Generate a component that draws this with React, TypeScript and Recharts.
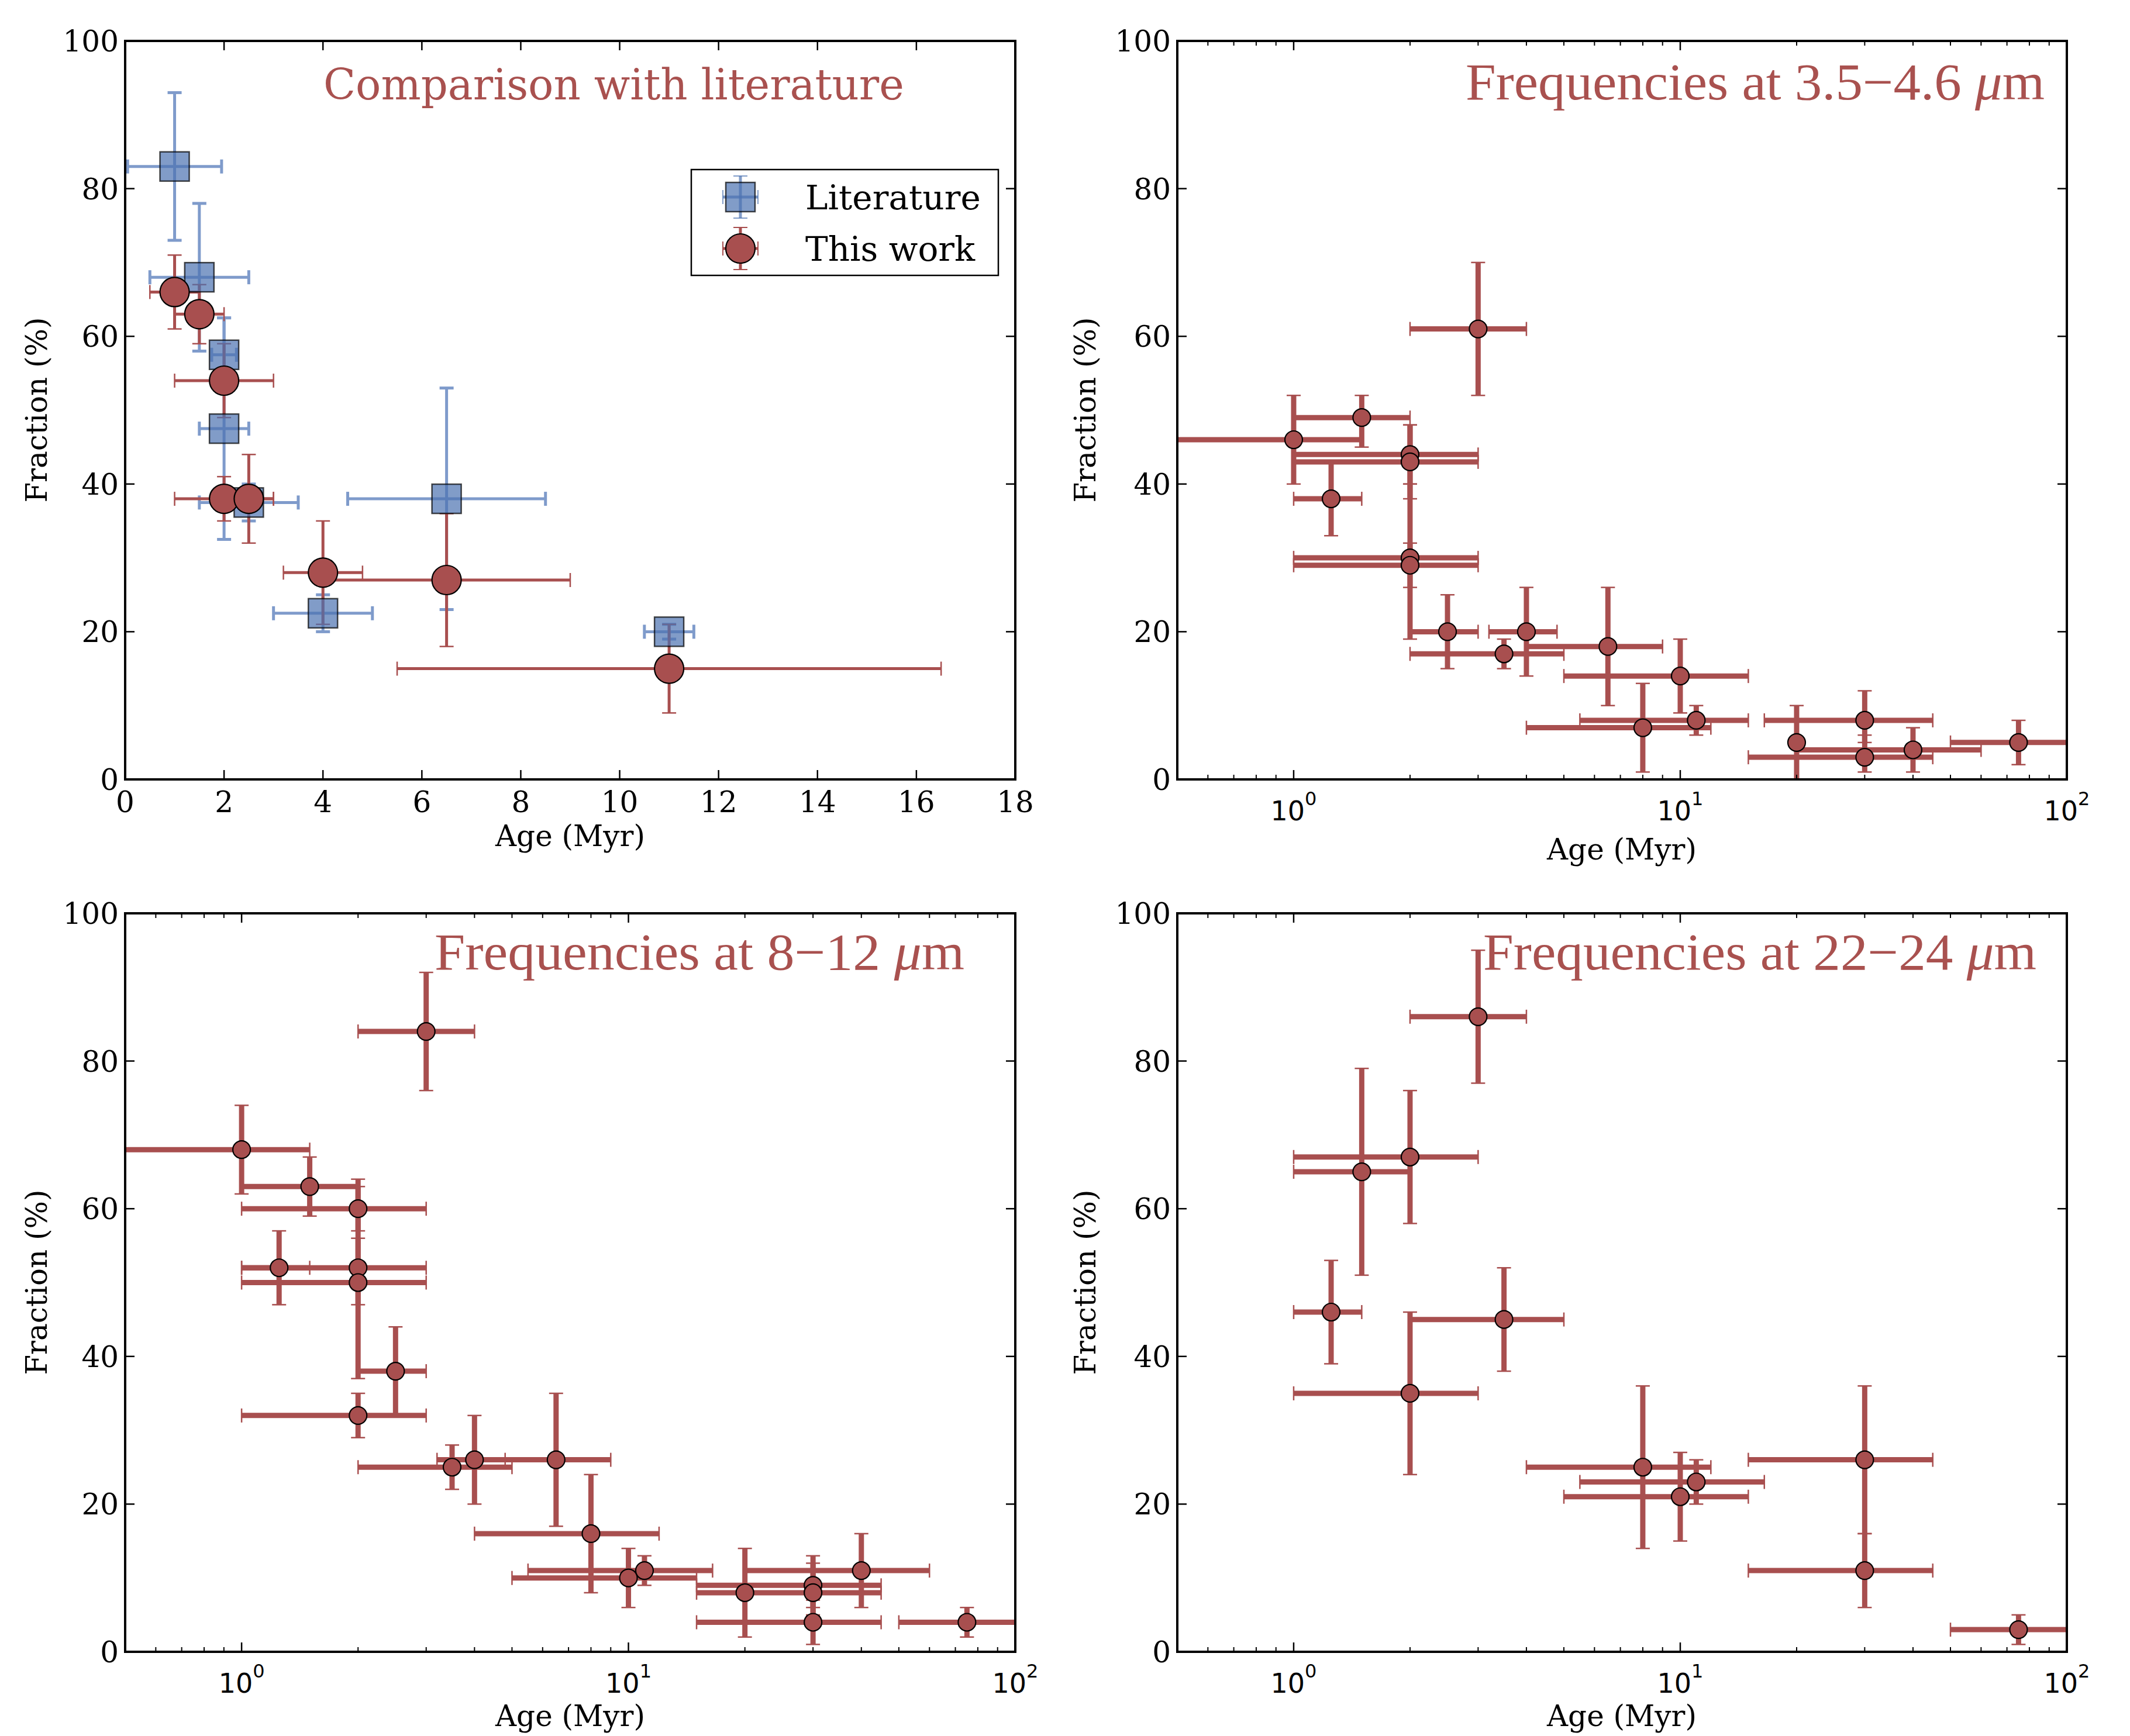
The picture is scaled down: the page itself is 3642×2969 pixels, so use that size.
import React from "react";
import { ScatterChart, Scatter, XAxis, YAxis, ErrorBar } from "recharts";

// ---- data: ages in Myr, fractions in % (with lower / upper bounds) ----

// panel 1: literature
const litAge = [1, 1.5, 2, 2, 2.5, 4, 6.5, 11];
const litAgeLo = [0.05, 0.5, 1.75, 1.5, 1.5, 3, 4.5, 10.5];
const litAgeHi = [1.95, 2.5, 2.25, 2.5, 3.5, 5, 8.5, 11.5];
const litFrac = [83, 68, 57.5, 47.5, 37.5, 22.5, 38, 20];
const litFracLo = [73, 58, 52.5, 32.5, 35, 20, 23, 19];
const litFracHi = [93, 78, 62.5, 62.5, 40, 25, 53, 21];

// panel 1: this work
const ourAge = [1, 1.5, 2, 2, 2.5, 4, 6.5, 11];
const ourAgeLo = [0.5, 1, 1, 1, 2, 3.2, 4, 5.5];
const ourAgeHi = [1.5, 2, 3, 3, 3, 4.8, 9, 16.5];
const ourFrac = [66, 63, 54, 38, 38, 28, 27, 15];
const ourFracLo = [61, 59, 49, 35, 32, 21, 18, 9];
const ourFracHi = [71, 67, 59, 41, 44, 35, 36, 21];

// panel 2: 3.5-4.6 um
const w1Age = [1, 1.5, 2, 2, 1.25, 3, 2, 2, 2.5, 4, 3.5, 6.5, 10, 8, 11, 30, 20, 30, 40, 75];
const w1AgeLo = [0.5, 1, 1, 1, 1, 2, 1, 1, 2, 3.2, 2, 4, 5, 4, 5.5, 16.5, 20, 15, 20, 50];
const w1AgeHi = [1.5, 2, 3, 3, 1.5, 4, 3, 3, 3, 4.8, 5, 9, 15, 12, 15, 45, 20, 45, 60, 100];
const w1Frac = [46, 49, 44, 43, 38, 61, 30, 29, 20, 20, 17, 18, 14, 7, 8, 8, 5, 3, 4, 5];
const w1FracLo = [40, 45, 40, 38, 33, 52, 26, 19, 15, 14, 15, 10, 9, 1, 6, 5, 0, 1, 1, 2];
const w1FracHi = [52, 52, 48, 48, 43, 70, 40, 32, 25, 26, 19, 26, 19, 13, 10, 12, 10, 6, 7, 8];

// panel 3: 8-12 um
const w3Age = [1, 1.5, 3, 2, 1.25, 2, 2, 2.5, 2, 3.5, 4, 6.5, 8, 10, 11, 20, 30, 30, 40, 30, 75];
const w3AgeLo = [0.5, 1, 2, 1, 1, 1, 1, 2, 1, 2, 3.2, 4, 4, 5, 5.5, 20, 15, 15, 20, 15, 50];
const w3AgeHi = [1.5, 2, 4, 3, 1.5, 3, 3, 3, 3, 5, 4.8, 9, 12, 15, 16.5, 20, 45, 45, 60, 45, 100];
const w3Frac = [68, 63, 84, 60, 52, 52, 50, 38, 32, 25, 26, 26, 16, 10, 11, 8, 9, 8, 11, 4, 4];
const w3FracLo = [62, 59, 76, 57, 47, 47, 37, 32, 29, 22, 20, 17, 8, 6, 9, 2, 6, 5, 6, 1, 2];
const w3FracHi = [74, 67, 92, 64, 57, 56, 63, 44, 35, 28, 32, 35, 24, 14, 13, 14, 13, 12, 16, 7, 6];

// panel 4: 22-24 um
const w4Age = [3, 2, 1.5, 1.25, 3.5, 2, 8, 10, 11, 30, 30, 75];
const w4AgeLo = [2, 1, 1, 1, 2, 1, 4, 5, 5.5, 15, 15, 50];
const w4AgeHi = [4, 3, 2, 1.5, 5, 3, 12, 15, 16.5, 45, 45, 100];
const w4Frac = [86, 67, 65, 46, 45, 35, 25, 21, 23, 26, 11, 3];
const w4FracLo = [77, 58, 51, 39, 38, 24, 14, 15, 20, 16, 6, 1];
const w4FracHi = [95, 76, 79, 53, 52, 46, 36, 27, 26, 36, 16, 5];

// axis ticks
const linTicks = [0, 2, 4, 6, 8, 10, 12, 14, 16, 18];
const logMajor = [1, 10, 100];
const logMinor = [0.6, 0.7, 0.8, 0.9, 2, 3, 4, 5, 6, 7, 8, 9, 20, 30, 40, 50, 60, 70, 80, 90];
const yTicks = [0, 20, 40, 60, 80, 100];

const RED = "#a84f4f";
const BLUE = "#4c72b0";
const TITLE = "#a9514f";
const SERIF = "'DejaVu Serif', serif";

const build = (age: number[], lo: number[], hi: number[], f: number[], flo: number[], fhi: number[]) =>
  age.map((a, i) => ({
    x: a,
    y: f[i],
    ex: [a - lo[i], hi[i] - a],
    ey: [f[i] - flo[i], fhi[i] - f[i]],
  }));

const litData = build(litAge, litAgeLo, litAgeHi, litFrac, litFracLo, litFracHi);
const ourData = build(ourAge, ourAgeLo, ourAgeHi, ourFrac, ourFracLo, ourFracHi);
const w1Data = build(w1Age, w1AgeLo, w1AgeHi, w1Frac, w1FracLo, w1FracHi);
const w3Data = build(w3Age, w3AgeLo, w3AgeHi, w3Frac, w3FracLo, w3FracHi);
const w4Data = build(w4Age, w4AgeLo, w4AgeHi, w4Frac, w4FracLo, w4FracHi);

const AXIS_LINE = { stroke: "#000", strokeWidth: 4, strokeLinecap: "square" as const };

function XTick(props: any) {
  const { x, y, payload, side, log } = props;
  const v = payload.value;
  const major = !log || logMajor.includes(v);
  const len = major ? 16 : 8;
  const dir = side === "bottom" ? -1 : 1;
  let label = null;
  if (side === "bottom" && major) {
    label = log ? (
      <text x={x} y={y + 70} textAnchor="middle" fontFamily="'DejaVu Sans', sans-serif" fontSize={46} fill="#000">
        10
        <tspan dy={-26} fontSize={32}>{Math.round(Math.log10(v))}</tspan>
      </text>
    ) : (
      <text x={x} y={y + 56} textAnchor="middle" fontFamily={SERIF} fontSize={50} fill="#000">
        {v}
      </text>
    );
  }
  return (
    <g>
      <line x1={x} y1={y} x2={x} y2={y + dir * len} stroke="#000" strokeWidth={major ? 2.5 : 2} />
      {label}
    </g>
  );
}

function YTick(props: any) {
  const { x, y, payload, side } = props;
  const dir = side === "left" ? 1 : -1;
  return (
    <g>
      <line x1={x} y1={y} x2={x + dir * 16} y2={y} stroke="#000" strokeWidth={2.5} />
      {side === "left" && (
        <text x={x - 11} y={y + 18} textAnchor="end" fontFamily={SERIF} fontSize={50} fill="#000">
          {payload.value}
        </text>
      )}
    </g>
  );
}

const redDot = (r: number) => (p: any) =>
  <circle cx={p.cx} cy={p.cy} r={r} fill={RED} stroke="#000" strokeWidth={2.2} />;
const blueSquare = (s: number) => (p: any) =>
  <rect x={p.cx - s / 2} y={p.cy - s / 2} width={s} height={s} fill={BLUE} fillOpacity={0.7} stroke="#000" strokeOpacity={0.7} strokeWidth={2.5} />;

// axes are 1px thick/wide, so the margins are 1px smaller than the plot offsets
function Panel({ left, top, height, margin, log, children }: any) {
  const xDomain = log ? [0.5, 100] : [0, 18];
  const xTicks = log ? [...logMinor, ...logMajor].sort((a, b) => a - b) : linTicks;
  const scale = log ? "log" : "linear";
  const m = { top: margin.top - 1, right: margin.right - 1, bottom: margin.bottom - 1, left: margin.left - 1 };
  return (
    <div style={{ position: "absolute", left, top }}>
      <ScatterChart width={1821} height={height} margin={m}>
        <XAxis xAxisId="b" type="number" dataKey="x" orientation="bottom" scale={scale} domain={xDomain}
          allowDataOverflow ticks={xTicks} interval={0} tickSize={0} tickMargin={0} tickLine={false}
          axisLine={AXIS_LINE} height={1} tick={(p: any) => <XTick {...p} side="bottom" log={log} />} />
        <XAxis xAxisId="t" type="number" dataKey="x" orientation="top" scale={scale} domain={xDomain}
          allowDataOverflow ticks={xTicks} interval={0} tickSize={0} tickMargin={0} tickLine={false}
          axisLine={AXIS_LINE} height={1} tick={(p: any) => <XTick {...p} side="top" log={log} />} />
        <YAxis yAxisId="l" type="number" dataKey="y" orientation="left" domain={[0, 100]} allowDataOverflow
          ticks={yTicks} interval={0} tickSize={0} tickMargin={0} tickLine={false} axisLine={AXIS_LINE}
          width={1} tick={(p: any) => <YTick {...p} side="left" />} />
        <YAxis yAxisId="r" type="number" dataKey="y" orientation="right" domain={[0, 100]} allowDataOverflow
          ticks={yTicks} interval={0} tickSize={0} tickMargin={0} tickLine={false} axisLine={AXIS_LINE}
          width={1} tick={(p: any) => <YTick {...p} side="right" />} />
        {children}
      </ScatterChart>
    </div>
  );
}

function redSeries(data: any[], thick: number, r: number) {
  return (
    <Scatter data={data} xAxisId="b" yAxisId="l" isAnimationActive={false} shape={redDot(r)}>
      <ErrorBar dataKey="ex" direction="x" width={12} stroke={RED} strokeWidth={2.5} isAnimationActive={false} />
      <ErrorBar dataKey="ex" direction="x" width={0} stroke={RED} strokeWidth={thick} isAnimationActive={false} />
      <ErrorBar dataKey="ey" direction="y" width={12} stroke={RED} strokeWidth={2.5} isAnimationActive={false} />
      <ErrorBar dataKey="ey" direction="y" width={0} stroke={RED} strokeWidth={thick} isAnimationActive={false} />
    </Scatter>
  );
}

function Overlay() {
  // log panels carry taller tick labels, so their x label sits lower
  const ageLabels = [[975, 1447], [2773, 1470], [975, 2952], [2773, 2952]];
  const fracLabels = [[80, 701], [1873, 701], [80, 2193], [1873, 2193]];
  const mathTitles = [
    { x: 2506, y: 170, a: "3.5", b: "4.6", len: 990 },
    { x: 743, y: 1658, a: "8", b: "12", len: 906 },
    { x: 2536, y: 1658, a: "22", b: "24", len: 946 },
  ];
  return (
    <svg width={3642} height={2969} style={{ position: "absolute", left: 0, top: 0, pointerEvents: "none" }}>
      <text x={553} y={170} fontFamily={SERIF} fontSize={72} fill={TITLE}>Comparison with literature</text>
      {mathTitles.map((t, i) => (
        <text key={i} x={t.x} y={t.y} fontFamily="'Liberation Serif', serif" fontSize={88} fill={TITLE}
          textLength={t.len} lengthAdjust="spacingAndGlyphs">
          Frequencies at {t.a}{"\u2212"}{t.b} <tspan fontStyle="italic">{"\u03bc"}</tspan>m
        </text>
      ))}
      {ageLabels.map(([x, y], i) => (
        <text key={"a" + i} x={x} y={y} textAnchor="middle" fontFamily={SERIF} fontSize={50} fill="#000">Age (Myr)</text>
      ))}
      {fracLabels.map(([x, y], i) => (
        <text key={"f" + i} x={x} y={y} textAnchor="middle" fontFamily={SERIF} fontSize={50} fill="#000"
          transform={`rotate(-90 ${x} ${y})`}>Fraction (%)</text>
      ))}
      {/* legend */}
      <rect x={1182} y={290} width={525} height={181} fill="#fff" stroke="#000" strokeWidth={2.5} />
      <g stroke={BLUE} strokeOpacity={0.7}>
        <line x1={1236} y1={337} x2={1296} y2={337} strokeWidth={5} />
        <line x1={1266} y1={301} x2={1266} y2={373} strokeWidth={5} />
        <line x1={1236} y1={325} x2={1236} y2={349} strokeWidth={2} />
        <line x1={1296} y1={325} x2={1296} y2={349} strokeWidth={2} />
        <line x1={1254} y1={301} x2={1278} y2={301} strokeWidth={2} />
        <line x1={1254} y1={373} x2={1278} y2={373} strokeWidth={2} />
      </g>
      <rect x={1241} y={312} width={50} height={50} fill={BLUE} fillOpacity={0.7} stroke="#000" strokeOpacity={0.7} strokeWidth={2.5} />
      <g stroke={RED}>
        <line x1={1236} y1={425} x2={1296} y2={425} strokeWidth={5} />
        <line x1={1266} y1={389} x2={1266} y2={461} strokeWidth={5} />
        <line x1={1236} y1={413} x2={1236} y2={437} strokeWidth={2} />
        <line x1={1296} y1={413} x2={1296} y2={437} strokeWidth={2} />
        <line x1={1254} y1={389} x2={1278} y2={389} strokeWidth={2} />
        <line x1={1254} y1={461} x2={1278} y2={461} strokeWidth={2} />
      </g>
      <circle cx={1266} cy={425} r={25} fill={RED} stroke="#000" strokeWidth={2.2} />
      <text x={1377} y={358} fontFamily={SERIF} fontSize={58} fill="#000">Literature</text>
      <text x={1377} y={446} fontFamily={SERIF} fontSize={58} fill="#000">This work</text>
    </svg>
  );
}

export default function App() {
  return (
    <div style={{ position: "absolute", left: 0, top: 0, width: 3642, height: 2969, background: "#fff" }}>
      <Panel left={0} top={0} height={1484} margin={{ top: 70, right: 85, bottom: 151, left: 214 }} log={false}>
        <Scatter data={litData} xAxisId="b" yAxisId="l" isAnimationActive={false} shape={blueSquare(50)}>
          <ErrorBar dataKey="ex" direction="x" width={12} stroke="#7f9bcb" strokeWidth={5} isAnimationActive={false} />
          <ErrorBar dataKey="ey" direction="y" width={12} stroke="#7f9bcb" strokeWidth={5} isAnimationActive={false} />
        </Scatter>
        {redSeries(ourData, 5, 25)}
      </Panel>
      <Panel left={1821} top={0} height={1484} margin={{ top: 70, right: 108, bottom: 151, left: 192 }} log>
        {redSeries(w1Data, 9, 15)}
      </Panel>
      <Panel left={0} top={1484} height={1485} margin={{ top: 78, right: 85, bottom: 144, left: 214 }} log>
        {redSeries(w3Data, 9, 15)}
      </Panel>
      <Panel left={1821} top={1484} height={1485} margin={{ top: 78, right: 108, bottom: 144, left: 192 }} log>
        {redSeries(w4Data, 9, 15)}
      </Panel>
      <Overlay />
    </div>
  );
}
